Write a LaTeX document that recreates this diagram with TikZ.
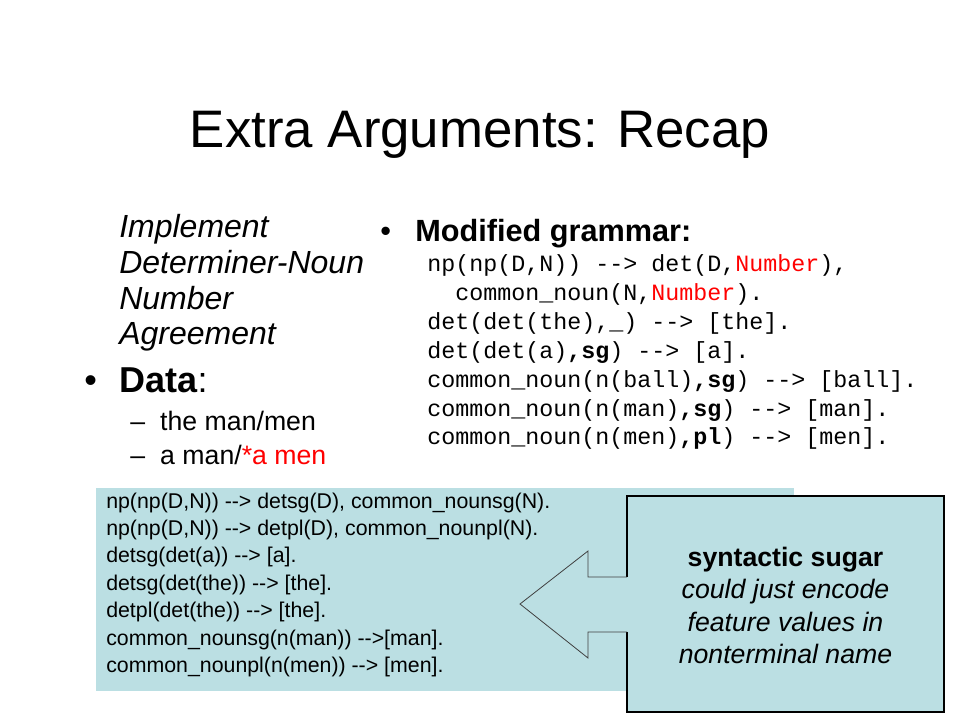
\documentclass[tikz,border=0pt]{standalone}
\usepackage{fontspec}
\setmainfont{Liberation Sans}
\setmonofont{Liberation Mono}
\usepackage{tikz}
\definecolor{notefill}{HTML}{BBDFE3}
\newcommand{\goesto}{\mbox{-}\mbox{-}\mbox{>}}
\tikzstyle{title}=[inner sep=0pt,anchor=base,font=\fontsize{39.6}{48}\selectfont]
\tikzstyle{task}=[inner sep=0pt,anchor=north west,text height=19pt,
text depth=7.25pt,font=\fontsize{24}{28}\selectfont\itshape]
\tikzstyle{head}=[inner sep=0pt,anchor=base west]
\tikzstyle{example}=[inner sep=0pt,anchor=north west,text height=18pt,
text depth=7.5pt,font=\fontsize{20}{24}\selectfont]
\tikzstyle{code}=[inner sep=0pt,anchor=north west,text height=15pt,
text depth=6.2pt,font=\ttfamily\fontsize{17.5}{21}\selectfont]
\tikzstyle{rule}=[inner sep=0pt,anchor=north west,text height=14.2pt,
text depth=6pt,font=\fontsize{16}{19}\selectfont]
\tikzstyle{note}=[inner sep=0pt,anchor=north,text height=17pt,
text depth=7pt,font=\fontsize{20}{24}\selectfont]
\tikzstyle{board}=[fill=notefill,draw=none]
\tikzstyle{callout}=[draw=black,line width=1pt]
\tikzstyle{arrowline}=[draw=black!75,line width=0.6pt]

\begin{document}
\begin{tikzpicture}[x=0.75pt,y=-0.75pt]
            \useasboundingbox (0,0) rectangle (960,720);

            % TITLE PART

            \node[title] (title) at (480,148) {Extra Arguments: Recap};

            % TASK AND DATA PART

            \node[task,anchor=base west] (imp1) at (119,238) {Implement};
            \node[task] (imp2) at (imp1.south west) {Determiner-Noun};
            \node[task] (imp3) at (imp2.south west) {Number};
            \node[task] (imp4) at (imp3.south west) {Agreement};

            \node[head,font=\fontsize{27}{32}\selectfont] (data) at (84,392)
                {\makebox[26.25pt][l]{•}\textbf{Data}:};
            \node[example,anchor=base west] (ex1) at (130,430)
                {\makebox[22.5pt][l]{–}the man/men};
            \node[example] (ex2) at (ex1.south west)
                {\makebox[22.5pt][l]{–}a man/\textcolor{red}{*a men}};

            % GRAMMAR PART

            \node[head,font=\fontsize{23}{27}\selectfont] (gram) at (380,242)
                {\makebox[26.25pt][l]{•}\textbf{Modified grammar:}};
            \node[code,anchor=base west] (g1) at (427,272)
                {np(np(D,N)) \goesto{} det(D,\textcolor{red}{Number}),};
            \node[code] (g2) at (g1.south west)
                {\phantom{np}common\_noun(N,\textcolor{red}{Number}).};
            \node[code] (g3) at (g2.south west)
                {det(det(the),\textbf{\_}) \goesto{} [the].};
            \node[code] (g4) at (g3.south west)
                {det(det(a)\textbf{,sg}) \goesto{} [a].};
            \node[code] (g5) at (g4.south west)
                {common\_noun(n(ball)\textbf{,sg}) \goesto{} [ball].};
            \node[code] (g6) at (g5.south west)
                {common\_noun(n(man)\textbf{,sg}) \goesto{} [man].};
            \node[code] (g7) at (g6.south west)
                {common\_noun(n(men)\textbf{,pl}) \goesto{} [men].};

            % SUGAR PART

            \path[board] (96,488) rectangle (794,691);
            \node[rule,anchor=base west] (r1) at (106,508)
                {np(np(D,N)) \goesto{} detsg(D), common\_nounsg(N).};
            \node[rule] (r2) at (r1.south west)
                {np(np(D,N)) \goesto{} detpl(D), common\_nounpl(N).};
            \node[rule] (r3) at (r2.south west) {detsg(det(a)) \goesto{} [a].};
            \node[rule] (r4) at (r3.south west) {detsg(det(the)) \goesto{} [the].};
            \node[rule] (r5) at (r4.south west) {detpl(det(the)) \goesto{} [the].};
            \node[rule] (r6) at (r5.south west) {common\_nounsg(n(man)) \goesto[man].};
            \node[rule] (r7) at (r6.south west) {common\_nounpl(n(men)) \goesto{} [men].};

            % callout with arrow
            \path[board] (627,496) -- (944,496) -- (944,712) -- (627,712)
                -- (627,632) -- (588,632) -- (588,658) -- (520,604)
                -- (588,551) -- (588,577) -- (627,577) -- cycle;
            \draw[callout] (627,577) -- (627,496) -- (944,496) -- (944,712)
                -- (627,712) -- (627,632);
            \draw[arrowline] (627,632) -- (588,632) -- (588,658) -- (520,604)
                -- (588,551) -- (588,577) -- (627,577);

            \node[note,anchor=base] (s1) at (785.5,566) {\textbf{syntactic sugar}};
            \node[note] (s2) at (s1.south) {\itshape could just encode};
            \node[note] (s3) at (s2.south) {\itshape feature values in};
            \node[note] (s4) at (s3.south) {\itshape nonterminal name};

\end{tikzpicture}
\end{document}
